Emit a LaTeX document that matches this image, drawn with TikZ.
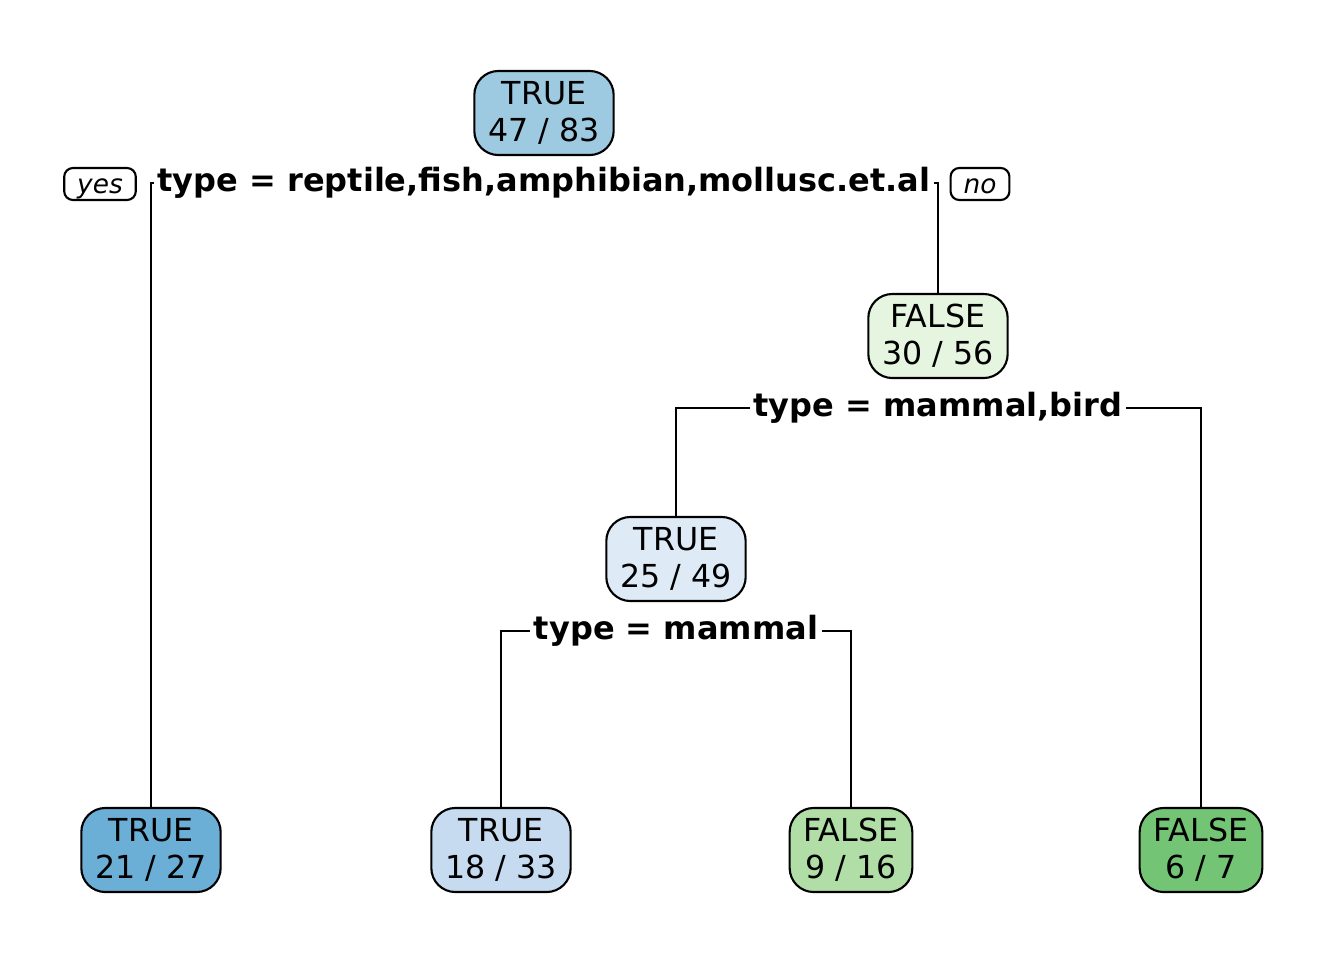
\documentclass[tikz,border=0pt]{standalone}
\usepackage{fontspec}
\setmainfont{DejaVu Sans}
\usepackage{tikz}
\usetikzlibrary{calc}
\usepackage{color}

\definecolor{rootfill}{RGB}{158,202,225}
\definecolor{leafA}{RGB}{107,174,214}
\definecolor{leafB}{RGB}{198,219,239}
\definecolor{nodeC}{RGB}{222,235,247}
\definecolor{nodeB}{RGB}{229,245,224}
\definecolor{leafC}{RGB}{176,222,166}
\definecolor{leafD}{RGB}{116,196,118}

\begin{document}
\begin{tikzpicture}
[x=0.01cm,y=-0.01cm,line width=0.6pt,
box/.style={draw,rounded corners=0.24cm,align=center,inner xsep=0.14cm,inner ysep=0pt,minimum height=0.84cm,font=\fontsize{9}{10.6}\selectfont},
split/.style={fill=white,inner sep=1pt,font=\bfseries\fontsize{9.1}{10}\selectfont},
tag/.style={draw,rounded corners=2.5pt,inner xsep=0.13cm,inner ysep=0pt,minimum height=0.32cm,text height=1ex,text depth=0pt,font=\itshape\fontsize{7.5}{8}\selectfont},]

\useasboundingbox (0,0) rectangle (1344,960);

%Split points
\coordinate (s1) at (544,183);
\coordinate (s2) at (938,408);
\coordinate (s3) at (676,631);

%Labeling nodes
\node (root) at (544,113)[box,fill=rootfill] {TRUE\\47 / 83};
\node (n2) at (938,336)[box,fill=nodeB] {FALSE\\30 / 56};
\node (n3) at (676,559)[box,fill=nodeC] {TRUE\\25 / 49};

%Leaves
\node (l1) at (151,850)[box,fill=leafA] {TRUE\\21 / 27};
\node (l2) at (501,850)[box,fill=leafB] {TRUE\\18 / 33};
\node (l3) at (851,850)[box,fill=leafC] {FALSE\\9 / 16};
\node (l4) at (1201,850)[box,fill=leafD] {FALSE\\6 / 7};

%Drawing branches
\draw (l1.north) |- (s1) -| (n2.north);
\draw (n3.north) |- (s2) -| (l4.north);
\draw (l2.north) |- (s3) -| (l3.north);

%Split labels
\node (t1) at (s1)[split] {type = reptile,fish,amphibian,mollusc.et.al};
\node (t2) at (s2)[split] {type = mammal,bird};
\node (t3) at (s3)[split] {type = mammal};

\node (yes) at (100,184)[tag] {yes};
\node (no) at (980,184)[tag] {no};

%
\end{tikzpicture}
\end{document}
